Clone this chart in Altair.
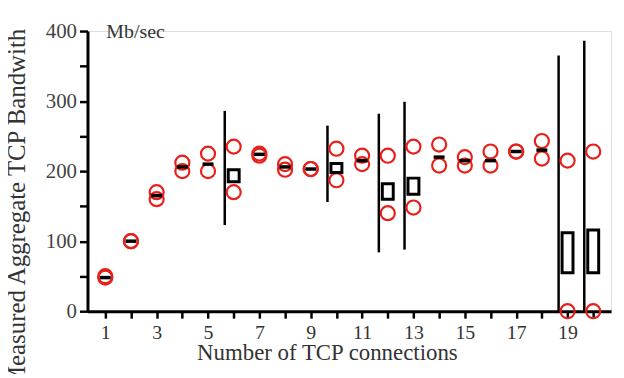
import altair as alt
import pandas as pd

# Data
conn = list(range(1, 21))
circ_hi = [50, 100, 170, 212, 225, 235, 225, 210, 203, 232, 222, 222, 235, 238, 220, 228, 228, 243, 215, 228]
circ_lo = [48, 100, 160, 200, 200, 170, 222, 202, 203, 187, 210, 140, 148, 208, 208, 208, 228, 218, 0, 0]

dash_x = [1, 2, 3, 4, 5, 7, 8, 9, 11, 14, 15, 16, 17, 18]
dash_y = [48, 100, 165, 206, 210, 224, 206, 203, 215, 220, 215, 215, 228, 230]

box_x = [6, 10, 12, 13, 19, 20]
box_lo = [185, 198, 160, 167, 55, 55]
box_hi = [202, 211, 182, 190, 112, 116]

rule_x = [6, 10, 12, 13, 19, 20]
rule_lo = [123, 156, 84, 88, 0, 0]
rule_hi = [286, 265, 282, 299, 365, 386]

x_ticks = list(range(1, 21))
y_ticks = [0, 50, 100, 150, 200, 250, 300, 350, 400]

circles = pd.DataFrame({"x": conn * 2, "y": circ_hi + circ_lo})
dashes = pd.DataFrame({"x": dash_x, "y": dash_y})
boxes = pd.DataFrame({"x": box_x, "lo": box_lo, "hi": box_hi})
rules = pd.DataFrame({"x": rule_x, "lo": rule_lo, "hi": rule_hi})

FONT = "Liberation Serif"

xscale = alt.Scale(domain=[0.5, 20.5], nice=False, zero=False)
yscale = alt.Scale(domain=[0, 400], nice=False, clamp=False)

xaxis = alt.Axis(
    values=x_ticks,
    labelExpr="datum.value % 2 == 1 ? datum.label : ''",
    title="Number of TCP connections",
    titleFont=FONT, titleFontSize=23, titleFontWeight="normal", titleColor="#333333",
    titleX=241, titlePadding=0,
    labelFont=FONT, labelFontSize=20, labelColor="#333333", labelPadding=4,
    tickSize=7, tickWidth=2.5, tickColor="black",
    domainColor="black", domainWidth=3, grid=False,
)
yaxis = alt.Axis(
    values=y_ticks,
    labelExpr="datum.value % 100 == 0 ? datum.label : ''",
    title="Measured Aggregate TCP Bandwith",
    titleFont=FONT, titleFontSize=25, titleFontWeight="normal", titleColor="#333333",
    titleY=178, titleX=-58,
    labelFont=FONT, labelFontSize=21, labelColor="#444444", labelPadding=3,
    tickSize=8, tickWidth=2.5, tickColor="black",
    domainColor="black", domainWidth=3, grid=False,
)

base_x = alt.X("x:Q", scale=xscale, axis=xaxis)

rule_layer = alt.Chart(rules).mark_rule(color="black", strokeWidth=2.5, xOffset=-9).encode(
    x=base_x,
    y=alt.Y("lo:Q", scale=yscale, axis=yaxis),
    y2="hi:Q",
)

circle_layer = alt.Chart(circles).mark_point(
    shape="circle", filled=False, color="#e8201a", size=200, strokeWidth=2.2, opacity=1
).encode(x=base_x, y=alt.Y("y:Q", scale=yscale, axis=yaxis))

dash_layer = alt.Chart(dashes).mark_tick(
    orient="horizontal", color="black", size=11, thickness=3.5, opacity=1
).encode(x=base_x, y=alt.Y("y:Q", scale=yscale, axis=yaxis))

box_layer = alt.Chart(boxes).mark_bar(
    width=11, fill="white", stroke="black", strokeWidth=3
).encode(
    x=base_x,
    y=alt.Y("lo:Q", scale=yscale, axis=yaxis),
    y2="hi:Q",
)

chart = alt.layer(rule_layer, circle_layer, dash_layer, box_layer).properties(
    width=527,
    height=282,
    title=alt.TitleParams(
        "Mb/sec", anchor="start", orient="top", frame="group", offset=-22, dx=19,
        font=FONT, fontSize=20, fontWeight="normal", color="#333333",
    ),
    autosize=alt.AutoSizeParams(type="none"),
    padding={"left": 80, "top": 22, "right": 5, "bottom": 62},
).configure_view(stroke=None).configure(background="white")

chart.save("out.html", embed_options={"renderer": "svg", "actions": False})
